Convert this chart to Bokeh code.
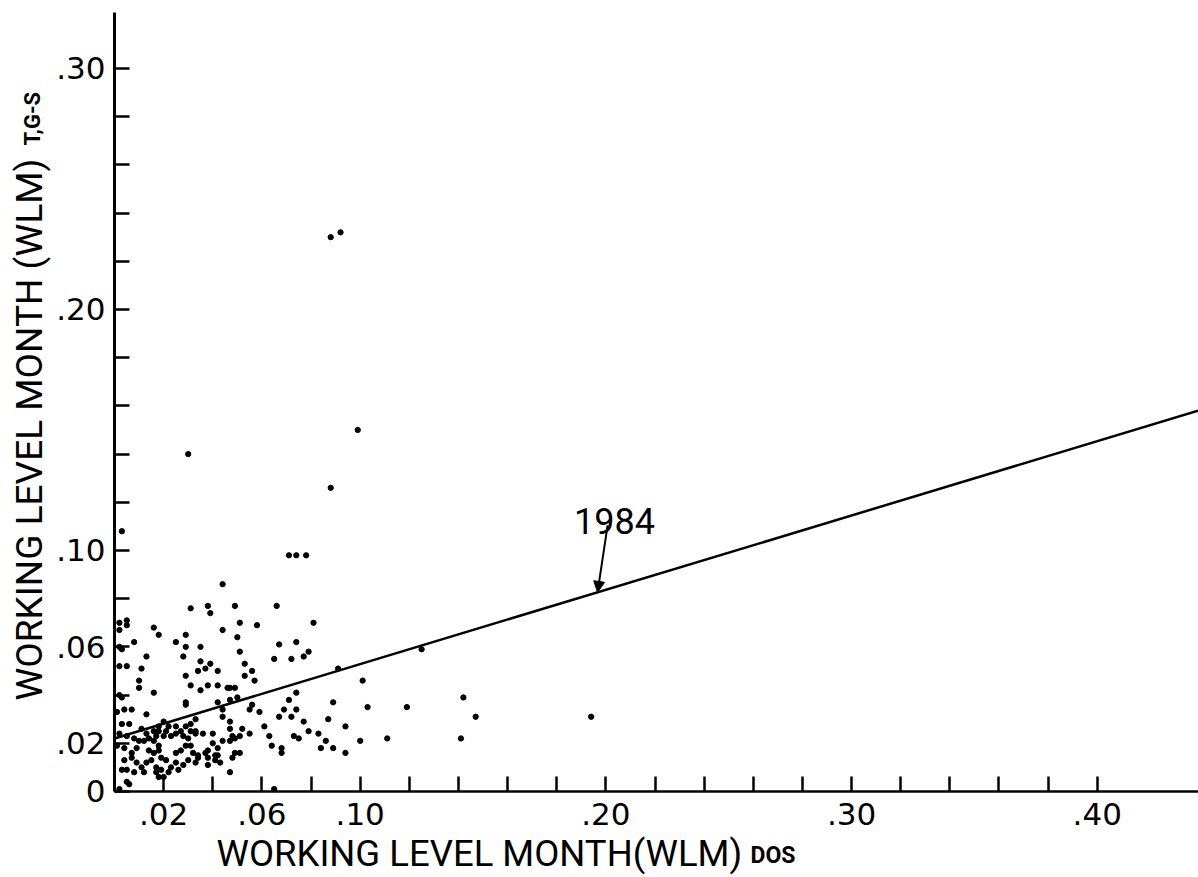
import math
from bokeh.plotting import figure
from bokeh.models import FixedTicker, Label, Arrow, NormalHead, Range1d, ColumnDataSource
from bokeh.embed import file_html
from bokeh.resources import INLINE

# ---------------- data ----------------
x_vals = [
    0.088, 0.092, 0.099, 0.030, 0.088, 0.003, 0.071, 0.074, 0.078, 0.044,
    0.031, 0.038, 0.039, 0.049, 0.066, 0.081, 0.002, 0.005, 0.005, 0.002,
    0.016, 0.018, 0.029, 0.029, 0.025, 0.008, 0.002, 0.003, 0.013, 0.028,
    0.035, 0.035, 0.039, 0.002, 0.005, 0.011, 0.034, 0.037, 0.042, 0.010,
    0.029, 0.044, 0.051, 0.058, 0.050, 0.051, 0.067, 0.074, 0.079, 0.077,
    0.065, 0.072, 0.053, 0.056, 0.053, 0.057, 0.042, 0.046, 0.049, 0.091,
    0.125, 0.101, 0.010, 0.016, 0.031, 0.035, 0.038, 0.029, 0.029, 0.002,
    0.003, 0.001, 0.004, 0.007, 0.013, 0.042, 0.047, 0.050, 0.056, 0.074,
    0.071, 0.069, 0.074, 0.072, 0.067, 0.055, 0.059, 0.044, 0.044, 0.089,
    0.103, 0.119, 0.142, 0.147, 0.194, 0.087, 0.077, 0.061, 0.079, 0.083,
    0.094, 0.063, 0.064, 0.068, 0.068, 0.073, 0.075, 0.086, 0.084, 0.089,
    0.094, 0.100, 0.111, 0.141, 0.065,
    0.003, 0.006, 0.011, 0.013, 0.016, 0.018, 0.020, 0.018, 0.021, 0.022,
    0.025, 0.027, 0.029, 0.031, 0.033, 0.033, 0.031,
    0.002, 0.005, 0.008, 0.010, 0.012, 0.014, 0.016, 0.017, 0.020, 0.023,
    0.025, 0.028, 0.030, 0.033, 0.036, 0.040,
    0.001, 0.004, 0.009, 0.007, 0.014, 0.016, 0.018, 0.018, 0.019, 0.021,
    0.025, 0.027, 0.029, 0.031, 0.032, 0.034, 0.037, 0.038, 0.041, 0.042,
    0.004, 0.007, 0.009, 0.011, 0.013, 0.015, 0.017, 0.019, 0.022, 0.023,
    0.025, 0.026, 0.028, 0.030, 0.033, 0.034, 0.038, 0.038, 0.041,
    0.003, 0.005, 0.008, 0.012, 0.017, 0.018, 0.020,
    0.005, 0.006, 0.002,
    0.047, 0.047, 0.047, 0.052, 0.055, 0.051, 0.049, 0.048, 0.040, 0.044,
    0.047, 0.042, 0.043, 0.049, 0.051, 0.048, 0.047,
]
y_vals = [
    0.230, 0.232, 0.150, 0.140, 0.126, 0.108, 0.098, 0.098, 0.098, 0.086,
    0.076, 0.077, 0.074, 0.077, 0.077, 0.070, 0.070, 0.071, 0.069, 0.067,
    0.068, 0.065, 0.065, 0.060, 0.062, 0.062, 0.060, 0.059, 0.056, 0.056,
    0.060, 0.054, 0.053, 0.052, 0.052, 0.051, 0.050, 0.051, 0.050, 0.046,
    0.048, 0.067, 0.070, 0.069, 0.064, 0.058, 0.061, 0.062, 0.058, 0.056,
    0.055, 0.055, 0.053, 0.050, 0.048, 0.046, 0.044, 0.043, 0.043, 0.051,
    0.059, 0.046, 0.043, 0.041, 0.044, 0.042, 0.044, 0.037, 0.036, 0.040,
    0.039, 0.033, 0.034, 0.034, 0.032, 0.037, 0.038, 0.039, 0.036, 0.041,
    0.038, 0.034, 0.034, 0.031, 0.031, 0.034, 0.033, 0.034, 0.031, 0.037,
    0.035, 0.035, 0.039, 0.031, 0.031, 0.030, 0.029, 0.027, 0.025, 0.024,
    0.027, 0.023, 0.019, 0.018, 0.016, 0.023, 0.022, 0.021, 0.018, 0.018,
    0.016, 0.021, 0.022, 0.022, 0.001,
    0.028, 0.028, 0.026, 0.024, 0.025, 0.027, 0.029, 0.025, 0.025, 0.027,
    0.027, 0.025, 0.027, 0.028, 0.030, 0.025, 0.025,
    0.024, 0.023, 0.022, 0.021, 0.021, 0.022, 0.021, 0.023, 0.023, 0.023,
    0.024, 0.023, 0.022, 0.024, 0.024, 0.024,
    0.019, 0.018, 0.018, 0.016, 0.017, 0.016, 0.019, 0.017, 0.014, 0.013,
    0.016, 0.017, 0.019, 0.019, 0.016, 0.015, 0.016, 0.017, 0.015, 0.018,
    0.013, 0.014, 0.012, 0.010, 0.012, 0.013, 0.010, 0.009, 0.008, 0.010,
    0.012, 0.009, 0.011, 0.013, 0.012, 0.014, 0.014, 0.011, 0.013,
    0.009, 0.009, 0.008, 0.008, 0.008, 0.006, 0.006,
    0.004, 0.003, 0.001,
    0.043, 0.029, 0.026, 0.026, 0.024, 0.023, 0.022, 0.023, 0.020, 0.021,
    0.021, 0.015, 0.012, 0.016, 0.016, 0.014, 0.008,
]

# fitted 1984 line (end points)
fit_x = [0.0, 0.441]
fit_y = [0.022, 0.158]
fit_label = "1984"
fit_label_pos = (0.2035, 0.1124)
arrow_from = (0.2007, 0.1104)
arrow_to = (0.1966, 0.0826)

x_ticks = [0.02, 0.04, 0.06, 0.08, 0.10, 0.12, 0.14, 0.16, 0.18, 0.20,
           0.22, 0.24, 0.26, 0.28, 0.30, 0.32, 0.34, 0.36, 0.38, 0.40]
x_tick_labels = [".02", "", ".06", "", ".10", "", "", "", "", ".20",
                 "", "", "", "", ".30", "", "", "", "", ".40"]
y_ticks = [0.0, 0.02, 0.04, 0.06, 0.08, 0.10, 0.12, 0.14, 0.16, 0.18,
           0.20, 0.22, 0.24, 0.26, 0.28, 0.30]
y_tick_labels = ["0", ".02", "", ".06", "", ".10", "", "", "", "",
                 ".20", "", "", "", "", ".30"]

x_title = "WORKING LEVEL MONTH(WLM)"
x_title_sub = "DOS"
y_title = "WORKING LEVEL MONTH (WLM)"
y_title_sub = "T,G-S"

x_axis_extent = (0.0, 0.4412)
y_axis_extent = (0.0, 0.3232)

# ---------------- figure ----------------
# The frame fills the whole canvas; the axes sit at x = 0 and y = 0,
# so the titles can be drawn as labels inside the frame.
p = figure(width=1198, height=877,
           x_range=Range1d(-0.0464, 0.4412), y_range=Range1d(-0.0357, 0.3282),
           output_backend="svg", toolbar_location=None,
           min_border_left=0, min_border_right=0,
           min_border_top=0, min_border_bottom=0)
p.title.visible = False
p.background_fill_color = "white"
p.border_fill_color = "white"
p.outline_line_color = None
p.xgrid.visible = False
p.ygrid.visible = False

for ax, ticks, labels, lw, extent in ((p.xaxis[0], x_ticks, x_tick_labels, 2.5, x_axis_extent),
                                      (p.yaxis[0], y_ticks, y_tick_labels, 3, y_axis_extent)):
    ax.fixed_location = 0
    ax.bounds = extent
    ax.ticker = FixedTicker(ticks=ticks)
    ax.major_label_overrides = dict(zip(ticks, labels))
    ax.axis_line_color = "black"
    ax.axis_line_width = lw
    ax.major_tick_in = 15
    ax.major_tick_out = 0
    ax.major_tick_line_width = 2.5
    ax.major_tick_line_color = "black"
    ax.minor_tick_line_color = None
    ax.major_label_text_font = "DejaVu Sans"
    ax.major_label_text_font_size = "31px"
    ax.major_label_text_color = "black"

p.xaxis.major_label_standoff = 12
p.yaxis.major_label_standoff = 9

src = ColumnDataSource(data=dict(x=x_vals, y=y_vals))
p.scatter("x", "y", source=src, size=5.3, marker="circle",
          fill_color="black", line_color="black")

p.line(fit_x, fit_y, line_color="black", line_width=2.5)

p.add_layout(Label(x=fit_label_pos[0], y=fit_label_pos[1], text=fit_label,
                   text_align="center", text_baseline="alphabetic",
                   text_font="Roboto", text_font_size="36px", text_color="black"))
p.add_layout(Arrow(end=NormalHead(size=11, fill_color="black", line_color="black"),
                   x_start=arrow_from[0], y_start=arrow_from[1],
                   x_end=arrow_to[0], y_end=arrow_to[1],
                   line_color="black", line_width=2))

# axis titles (screen units from the canvas' lower-left corner)
p.add_layout(Label(x=216, y=24, x_units="screen", y_units="screen",
                   text=x_title, text_align="left", text_baseline="alphabetic",
                   text_font="Roboto", text_font_size="36.5px", text_color="black"))
p.add_layout(Label(x=750, y=22, x_units="screen", y_units="screen",
                   text=x_title_sub, text_align="left", text_baseline="alphabetic",
                   text_font="Roboto", text_font_size="23px", text_font_style="bold",
                   text_color="black"))
p.add_layout(Label(x=29, y=177, x_units="screen", y_units="screen",
                   angle=math.pi / 2,
                   text=y_title, text_align="left", text_baseline="alphabetic",
                   text_font="Roboto", text_font_size="37px", text_color="black"))
p.add_layout(Label(x=32, y=732, x_units="screen", y_units="screen",
                   angle=math.pi / 2,
                   text=y_title_sub, text_align="left", text_baseline="alphabetic",
                   text_font="Roboto", text_font_size="22px", text_font_style="bold",
                   text_color="black"))

open("out.html", "w").write(file_html(p, INLINE))
